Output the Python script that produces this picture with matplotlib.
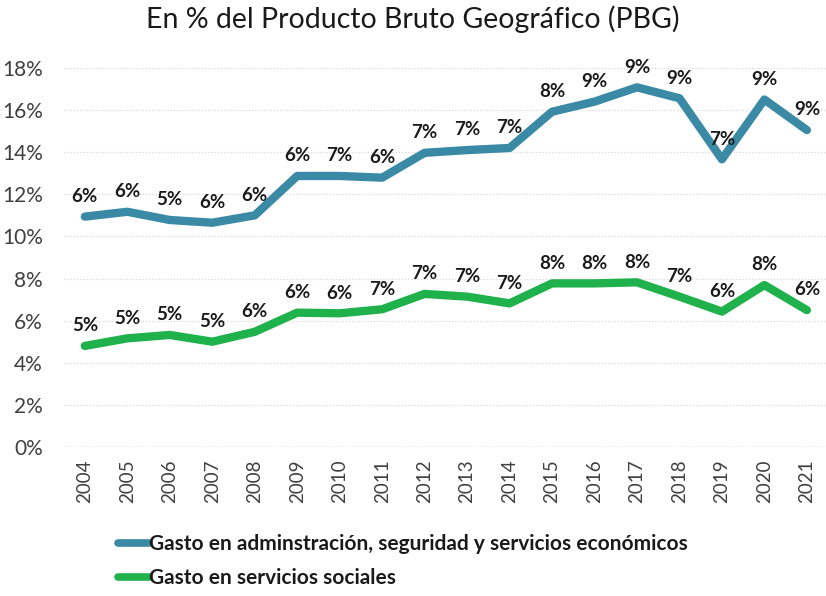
import matplotlib.pyplot as plt
from matplotlib.ticker import FuncFormatter

plt.rcParams['font.family'] = ['Lato', 'DejaVu Sans']

years = list(range(2004, 2022))
admin_values = [10.94, 11.17, 10.78, 10.65, 11.0, 12.87, 12.87, 12.79, 13.97, 14.1,
                14.2, 15.92, 16.4, 17.08, 16.56, 13.66, 16.5, 15.05]
admin_labels = ["6%", "6%", "5%", "6%", "6%", "6%", "7%", "6%", "7%", "7%",
                "7%", "8%", "9%", "9%", "9%", "7%", "9%", "9%"]
social_values = [4.8, 5.16, 5.32, 5.0, 5.47, 6.38, 6.35, 6.54, 7.27, 7.14,
                 6.82, 7.77, 7.77, 7.82, 7.14, 6.43, 7.69, 6.5]
social_labels = ["5%", "5%", "5%", "5%", "6%", "6%", "6%", "7%", "7%", "7%",
                 "7%", "8%", "8%", "8%", "7%", "6%", "8%", "6%"]
y_ticks = [0, 2, 4, 6, 8, 10, 12, 14, 16, 18]

blue = "#3A8AA6"
green = "#1FB24C"

fig = plt.figure(figsize=(8.26, 5.96), dpi=100)
ax = fig.add_axes([0.077, 0.25, 0.923, 0.636])

ax.plot(years, admin_values, color=blue, linewidth=6, solid_capstyle="round",
        solid_joinstyle="round", label="Gasto en adminstración, seguridad y servicios económicos")
ax.plot(years, social_values, color=green, linewidth=6, solid_capstyle="round",
        solid_joinstyle="round", label="Gasto en servicios sociales")

for vals, labs in ((admin_values, admin_labels), (social_values, social_labels)):
    for x, y, t in zip(years, vals, labs):
        ax.annotate(t, (x, y), xytext=(0, 14.5), textcoords="offset points",
                    ha="center", va="center", fontsize=13.5, fontweight="bold",
                    color="#1a1a1a", annotation_clip=False)

ax.set_xlim(2003.5, 2021.45)
ax.set_ylim(0, 18)
ax.set_yticks(y_ticks)
ax.yaxis.set_major_formatter(FuncFormatter(lambda v, p: f"{v:.0f}%"))
ax.set_xticks(years)
ax.set_xticklabels([str(y) for y in years], rotation=90)
ax.tick_params(axis="y", length=0, labelsize=15, labelcolor="#404040", pad=15)
ax.tick_params(axis="x", length=0, labelsize=13.5, labelcolor="#404040", pad=9)
ax.grid(axis="y", color="#d9d9d9", linestyle=(0, (1, 1.5)), linewidth=0.9)
ax.set_axisbelow(True)
for s in ax.spines.values():
    s.set_visible(False)
ax.axhline(0, color="#e0e0e0", linewidth=1, zorder=0)

fig.text(0.5, 0.968, "En % del Producto Bruto Geográfico (PBG)", ha="center", va="center",
         fontsize=20.5, color="#1a1a1a")

leg = fig.legend(loc="upper left", bbox_to_anchor=(0.12, 0.135), frameon=False,
                 handlelength=1.5, handletextpad=0.0, labelspacing=0.65,
                 prop={"size": 15, "weight": "bold"})
for line in leg.get_lines():
    line.set_linewidth(5.5)
for t in leg.get_texts():
    t.set_color("#1a1a1a")

fig.savefig("out.png", dpi=100)
